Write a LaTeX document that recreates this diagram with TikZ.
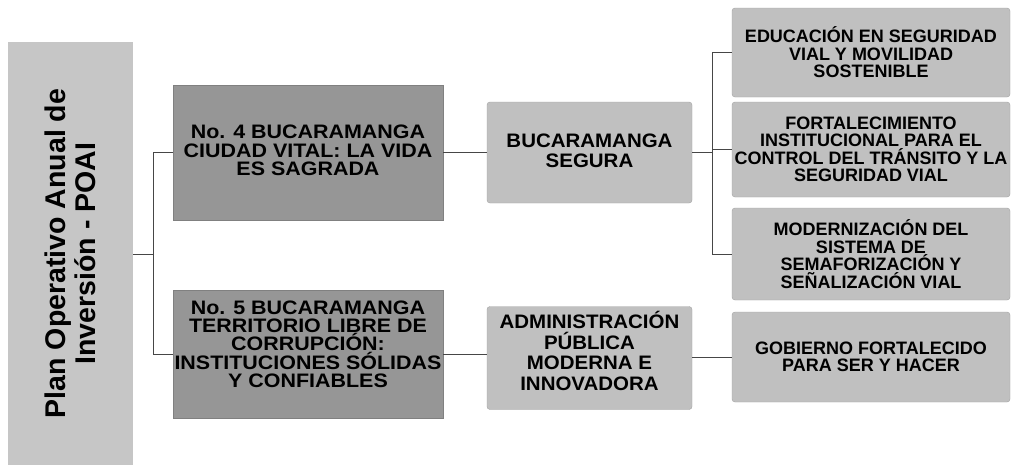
\documentclass[tikz,border=0pt]{standalone}
\usepackage{fontspec}
\setmainfont{Liberation Sans}
\newfontfamily\darkfont[FakeStretch=1.1]{Liberation Sans}
\newfontfamily\midfont[FakeStretch=1.05]{Liberation Sans}
\definecolor{leftgray}{RGB}{198,198,198}
\definecolor{darkfill}{RGB}{150,150,150}
\definecolor{lightfill}{RGB}{192,192,192}
\definecolor{wirecol}{RGB}{70,70,70}
\begin{document}
\begin{tikzpicture}[x=1pt,y=-1pt,
  box/.style={rectangle, inner sep=0pt, align=center, text=black},
  lbox/.style={box, fill=leftgray},
  dbox/.style={box, fill=darkfill, draw=darkfill!85!black, line width=0.4pt, minimum width=270},
  dtext/.style={align=center, inner sep=0pt, font=\darkfont\bfseries\fontsize{19.5}{18.3}\selectfont},
  mbox/.style={box, fill=lightfill, draw=lightfill!85!black, line width=0.4pt, rounded corners=3pt, minimum width=205},
  mtext/.style={align=center, inner sep=0pt, font=\midfont\bfseries\fontsize{19.5}{20.5}\selectfont},
  rbox/.style={box, fill=lightfill, draw=lightfill!85!black, line width=0.4pt, rounded corners=3pt,
    minimum width=278, font=\bfseries\fontsize{18}{17.5}\selectfont},
  wire/.style={draw=wirecol, line width=0.8pt}]
\useasboundingbox (0,0) rectangle (1013,467);

% left column
\node[lbox, minimum width=125, minimum height=423] (L) at (70.5,253.5) {};
\node[rotate=90, align=center, inner sep=0pt, font=\bfseries\fontsize{28.5}{30}\selectfont] (Lt) at (L.center) {Plan Operativo Anual de\\Inversión - POAI};

% programmes
\node[dbox, minimum height=135] (D1) at (308,152.5) {};
\node[dtext] (D1t) at (308,150.5) {No. 4 BUCARAMANGA\\CIUDAD VITAL: LA VIDA\\ES SAGRADA};
\node[dbox, minimum height=128] (D2) at (308,354) {};
\node[dtext] (D2t) at (308,344) {No. 5 BUCARAMANGA\\TERRITORIO LIBRE DE\\CORRUPCIÓN:\\INSTITUCIONES SÓLIDAS\\Y CONFIABLES};

% middle
\node[mbox, minimum height=101] (BS) at (589.5,152.5) {};
\node[mtext] (BSt) at (589.5,151) {BUCARAMANGA\\SEGURA};
\node[mbox, minimum height=103] (AP) at (589.5,358) {};
\node[mtext] (APt) at (589.5,351) {ADMINISTRACIÓN\\PÚBLICA\\MODERNA E\\INNOVADORA};

% right
\node[rbox, minimum height=89] (R1) at (871,52.5) {EDUCACIÓN EN SEGURIDAD\\VIAL Y MOVILIDAD\\SOSTENIBLE};
\node[rbox, minimum height=95] (R2) at (871,149.5) {FORTALECIMIENTO\\INSTITUCIONAL PARA EL\\CONTROL DEL TRÁNSITO Y LA\\SEGURIDAD VIAL};
\node[rbox, minimum height=92] (R3) at (871,254) {MODERNIZACIÓN DEL\\SISTEMA DE\\SEMAFORIZACIÓN Y\\SEÑALIZACIÓN VIAL};
\node[rbox, minimum height=90] (R4) at (871,357) {GOBIERNO FORTALECIDO\\PARA SER Y HACER};

% connectors
\coordinate (busL) at (153,254);
\coordinate (busR) at (712,152.5);
\draw[wire] (L.east |- busL) -- (busL);
\draw[wire] (D1.west) -| (busL);
\draw[wire] (D2.west) -| (busL);
\draw[wire] (D1.east) -- (BS.west);
\draw[wire] (D2.east) -- (D2.east -| AP.west);
\draw[wire] (BS.east) -- (busR);
\draw[wire] (R1.west) -| (busR);
\draw[wire] (R2.west) -| (busR);
\draw[wire] (R3.west) -| (busR);
\draw[wire] (AP.east |- R4.west) -- (R4.west);
\end{tikzpicture}
\end{document}
